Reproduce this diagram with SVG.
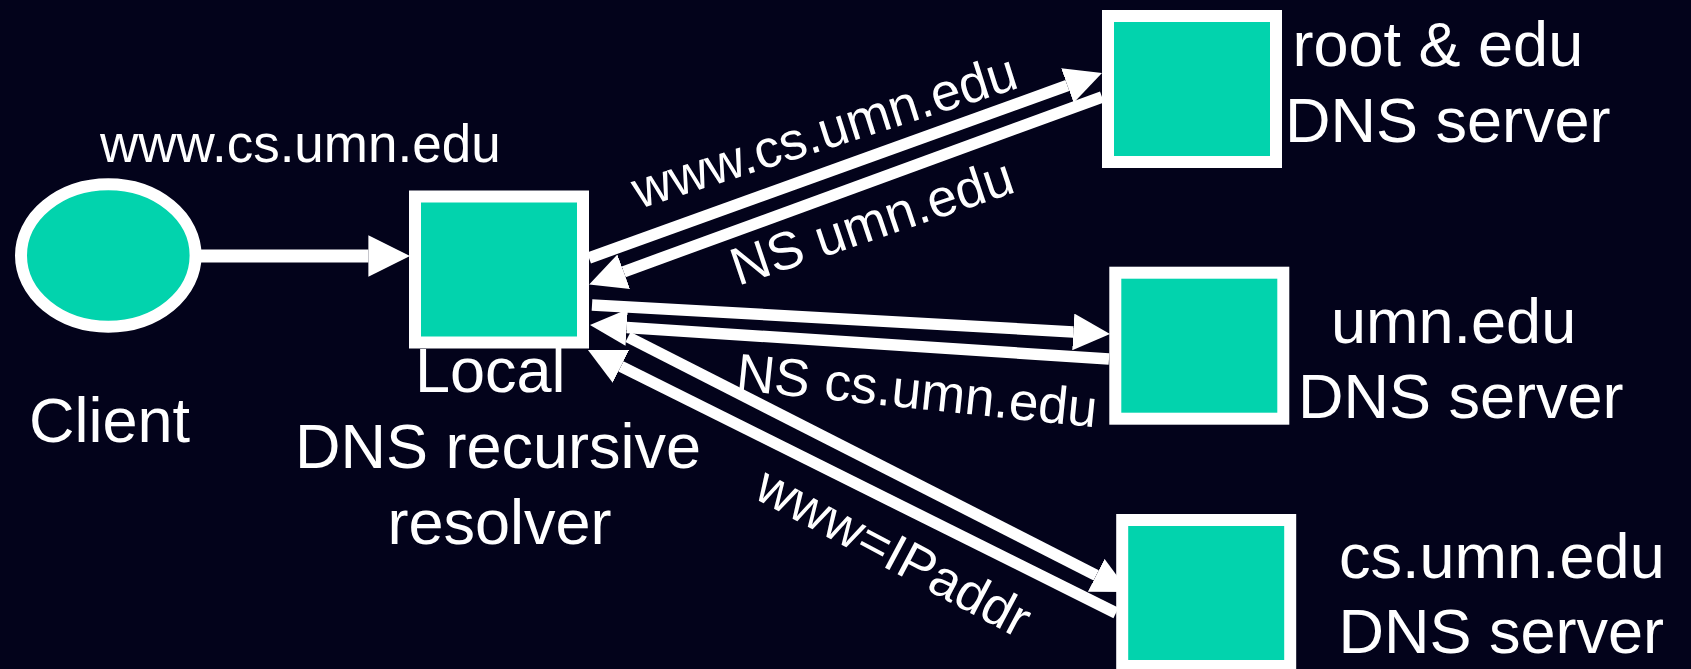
<svg xmlns="http://www.w3.org/2000/svg" width="1691" height="669" viewBox="0 0 1691 669">
  <style>
    .bg { fill: #03031b; }
    .node { fill: #02d3ad; stroke: #ffffff; stroke-width: 12; }
    .lbl { font-family: "Liberation Sans", Arial, sans-serif; fill: #ffffff; font-size: 63px; }
    .elbl { font-family: "Liberation Sans", Arial, sans-serif; fill: #ffffff; font-size: 53px; }
    .conn { stroke: #ffffff; stroke-width: 11.5; fill: none; marker-end: url(#ah); }
  </style>
  <defs>
    <marker id="ah" viewBox="0 0 10 10" refX="0" refY="5" markerWidth="3.2" markerHeight="3.2" orient="auto" markerUnits="strokeWidth">
      <path d="M0,0 L10,5 L0,10 z" fill="#ffffff"/>
    </marker>
  </defs>
  <rect class="bg" x="0" y="0" width="1691" height="669"/>

  <g id="connectors">
    <line class="conn" x1="195" y1="256" x2="368.4" y2="256" style="stroke-width:13"/>
    <line class="conn" x1="589" y1="258" x2="1067.4" y2="85.5"/>
    <line class="conn" x1="1102" y1="97" x2="623.7" y2="271.8"/>
    <line class="conn" x1="592" y1="305" x2="1073.3" y2="331.9"/>
    <line class="conn" x1="1109" y1="359" x2="626.7" y2="327.4"/>
    <line class="conn" x1="628" y1="337" x2="1096.2" y2="575.3"/>
    <line class="conn" x1="1116" y1="613" x2="620.9" y2="366.4"/>
  </g>

  <g id="client">
    <ellipse class="node" cx="108.3" cy="255.5" rx="87.3" ry="71.2"/>
    <text class="lbl" x="29" y="442">Client</text>
  </g>
  <g id="local-resolver">
    <rect class="node" x="415" y="196.5" width="168" height="146"/>
    <text class="lbl" x="415" y="392">Local</text>
    <text class="lbl" x="295" y="468">DNS recursive</text>
    <text class="lbl" x="387.5" y="544">resolver</text>
  </g>
  <g id="root-edu-server">
    <rect class="node" x="1108" y="16" width="168" height="146"/>
    <text class="lbl" x="1292.5" y="66">root &amp; edu</text>
    <text class="lbl" x="1285" y="142">DNS server</text>
  </g>
  <g id="umn-edu-server">
    <rect class="node" x="1115.3" y="272.7" width="168" height="146"/>
    <text class="lbl" x="1331" y="343">umn.edu</text>
    <text class="lbl" x="1298" y="418">DNS server</text>
  </g>
  <g id="cs-umn-edu-server">
    <rect class="node" x="1122.2" y="520" width="168" height="146"/>
    <text class="lbl" x="1339" y="578">cs.umn.edu</text>
    <text class="lbl" x="1338.5" y="653">DNS server</text>
  </g>

  <g id="edge-labels">
    <text class="elbl" x="100" y="162">www.cs.umn.edu</text>
    <text class="elbl" transform="translate(639,209) rotate(-17.7)">www.cs.umn.edu</text>
    <text class="elbl" transform="translate(738,286) rotate(-18.7)">NS umn.edu</text>
    <text class="elbl" transform="translate(735,390) rotate(5.9)">NS cs.umn.edu</text>
    <text class="elbl" transform="translate(752,497) rotate(28)">www=IPaddr</text>
  </g>
</svg>
